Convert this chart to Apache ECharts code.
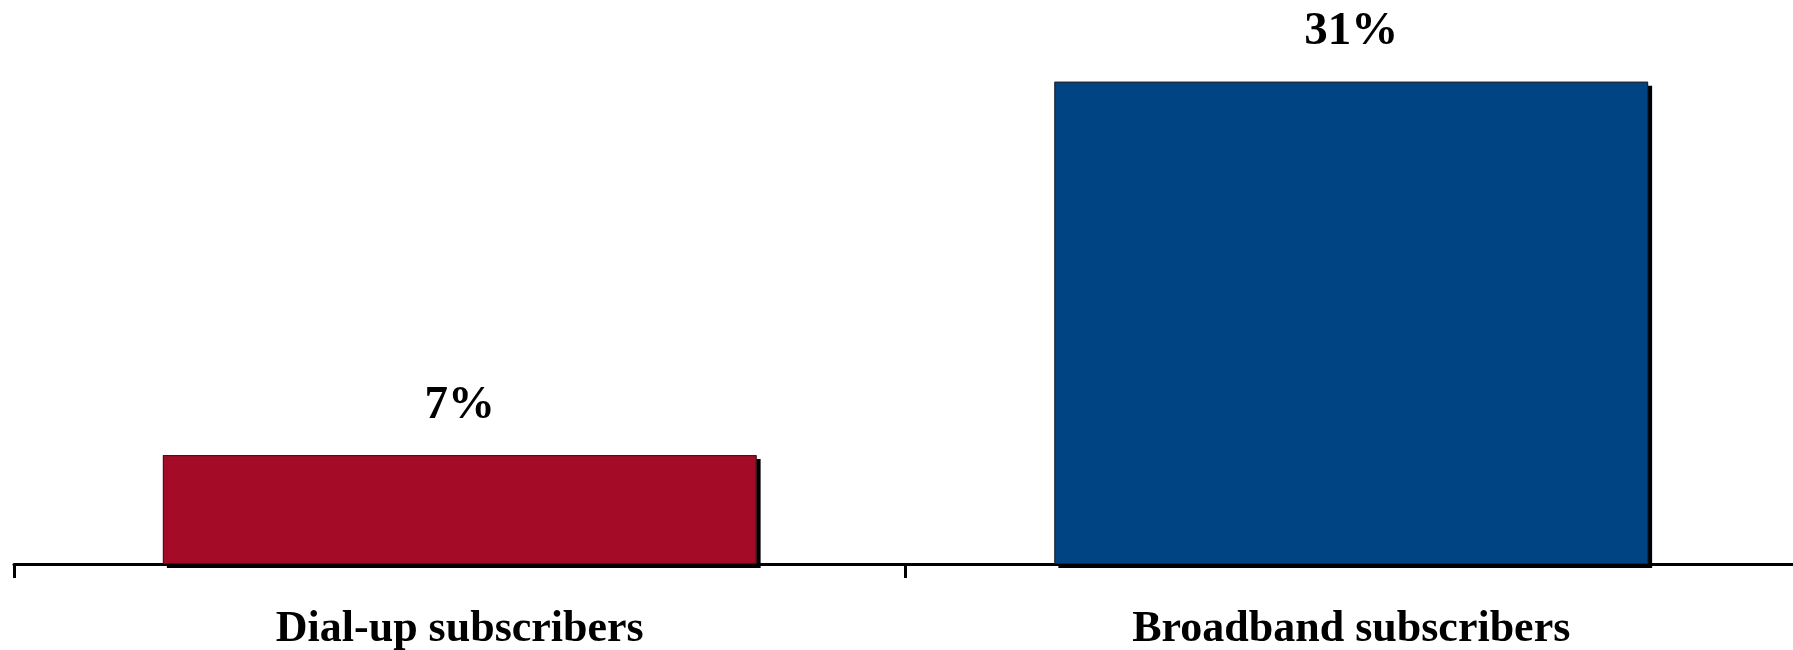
<!DOCTYPE html>
<html><head><meta charset="utf-8">
<script src="https://cdn.jsdelivr.net/npm/echarts@6/dist/echarts.min.js"></script>
<style>html,body{margin:0;padding:0;background:#fff}#c{width:1793px;height:650px}</style>
</head><body><div id="c"></div>
<script>
const categories = ["Dial-up subscribers", "Broadband subscribers"];
const values = [7, 31];
const barColors = ["#A30B26", "#014483"];

const chart = echarts.init(document.getElementById('c'), null, {renderer: 'canvas'});
chart.setOption({
  animation: false,
  backgroundColor: '#fff',
  grid: {left: 14, right: -4, top: 19.5, bottom: 86, containLabel: false, outerBoundsMode: 'none'},
  xAxis: {
    type: 'category',
    data: categories,
    boundaryGap: true,
    axisLine: {show: true, lineStyle: {color: '#000', width: 3}},
    axisTick: {show: true, alignWithLabel: false, length: 14, lineStyle: {color: '#000', width: 3}},
    axisLabel: {margin: 44, color: '#000', fontFamily: 'Liberation Serif', fontWeight: 'bold', fontSize: 44}
  },
  yAxis: {type: 'value', min: 0, max: 35, show: false, splitLine: {show: false}},
  series: [{
    type: 'bar',
    barWidth: '66.6%',
    data: values.map((v, i) => ({value: v, itemStyle: {color: barColors[i]}})),
    itemStyle: {borderWidth: 0, shadowColor: '#000', shadowOffsetX: 4, shadowOffsetY: 4, shadowBlur: 0},
    label: {show: true, position: 'top', distance: 26, formatter: '{c}%', color: '#000',
      fontFamily: 'Liberation Serif', fontWeight: 'bold', fontSize: 47}
  }, {
    type: 'bar',
    barWidth: '66.6%',
    barGap: '-100%',
    silent: true,
    data: values,
    itemStyle: {color: 'rgba(0,0,0,0)', borderColor: '#222', borderWidth: 1}
  }]
});
</script></body></html>
